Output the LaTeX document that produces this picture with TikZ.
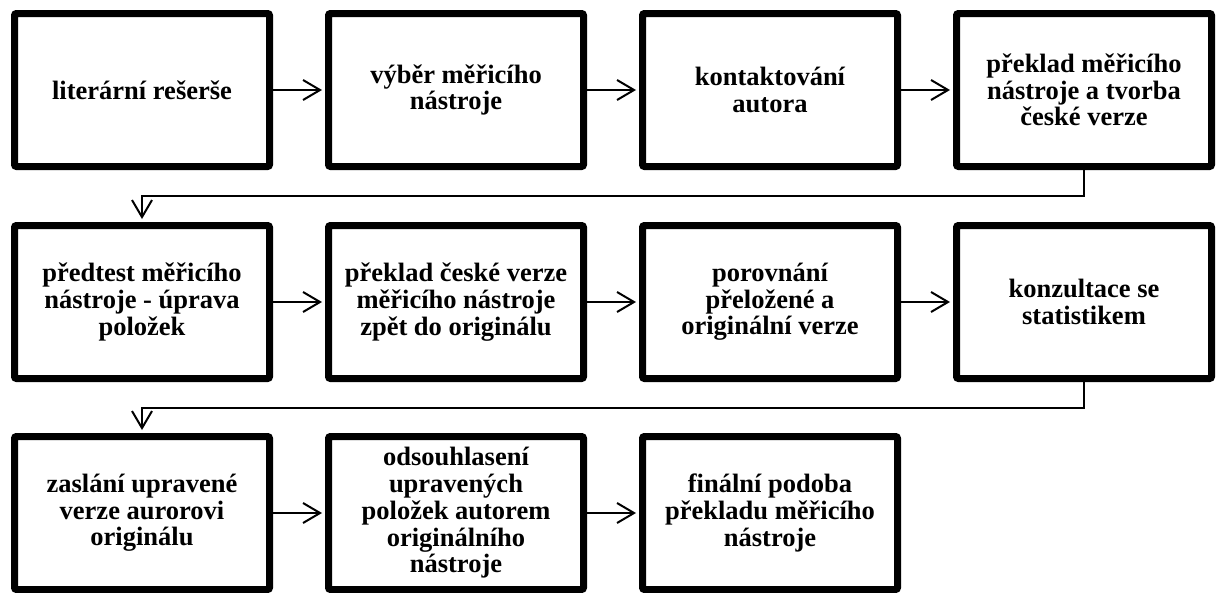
\documentclass[tikz,border=0pt]{standalone}
\usepackage{fontspec}
\setmainfont{Liberation Serif}
\usetikzlibrary{arrows.meta}
\usetikzlibrary{shadows}
\usetikzlibrary{positioning}

\begin{document}
\begin{tikzpicture}[
    x=1pt, y=1pt,
    font=\fontsize{26.5}{26.7}\selectfont\bfseries
]
\tikzset{
    boxn/.style = {rectangle, draw=black, line width=7pt, rounded corners=2pt,
        fill=white, align=center, minimum width=255pt, minimum height=153pt,
        inner sep=0pt,
        drop shadow={shadow xshift=2pt, shadow yshift=-2pt, opacity=0.25}},
    arrn/.style = {-{Straight Barb[length=17pt,width=20pt,line width=2pt]},
        line width=2pt, shorten >=3pt}
}
\useasboundingbox (0,0) rectangle (1216,-592);
% row 1
\node[boxn] at (142,-90) (lit) {literární rešerše};
\node[boxn] at (456,-90) (vyb) {výběr měřicího\\nástroje};
\node[boxn] at (770,-90) (kon) {kontaktování\\autora};
\node[boxn] at (1084,-90) (pre) {překlad měřicího\\nástroje a tvorba\\české verze};
% row 2
\node[boxn] at (142,-302) (ped) {předtest měřicího\\nástroje - úprava\\položek};
\node[boxn] at (456,-302) (zpet) {překlad české verze\\měřicího nástroje\\zpět do originálu};
\node[boxn] at (770,-302) (por) {porovnání\\přeložené a\\originální verze};
\node[boxn] at (1084,-302) (stat) {konzultace se\\statistikem};
% row 3
\node[boxn] at (142,-513) (zas) {zaslání upravené\\verze aurorovi\\originálu};
\node[boxn] at (456,-513) (ods) {odsouhlasení\\upravených\\položek autorem\\originálního\\nástroje};
\node[boxn] at (770,-513) (fin) {finální podoba\\překladu měřicího\\nástroje};
% arrows
\draw[arrn] (lit) -- (vyb);
\draw[arrn] (vyb) -- (kon);
\draw[arrn] (kon) -- (pre);
\draw[arrn] (pre.south) -- ++(0,-26) -| (ped.north);
\draw[arrn] (ped) -- (zpet);
\draw[arrn] (zpet) -- (por);
\draw[arrn] (por) -- (stat);
\draw[arrn] (stat.south) -- ++(0,-26) -| (zas.north);
\draw[arrn] (zas) -- (ods);
\draw[arrn] (ods) -- (fin);
\end{tikzpicture}
\end{document}
